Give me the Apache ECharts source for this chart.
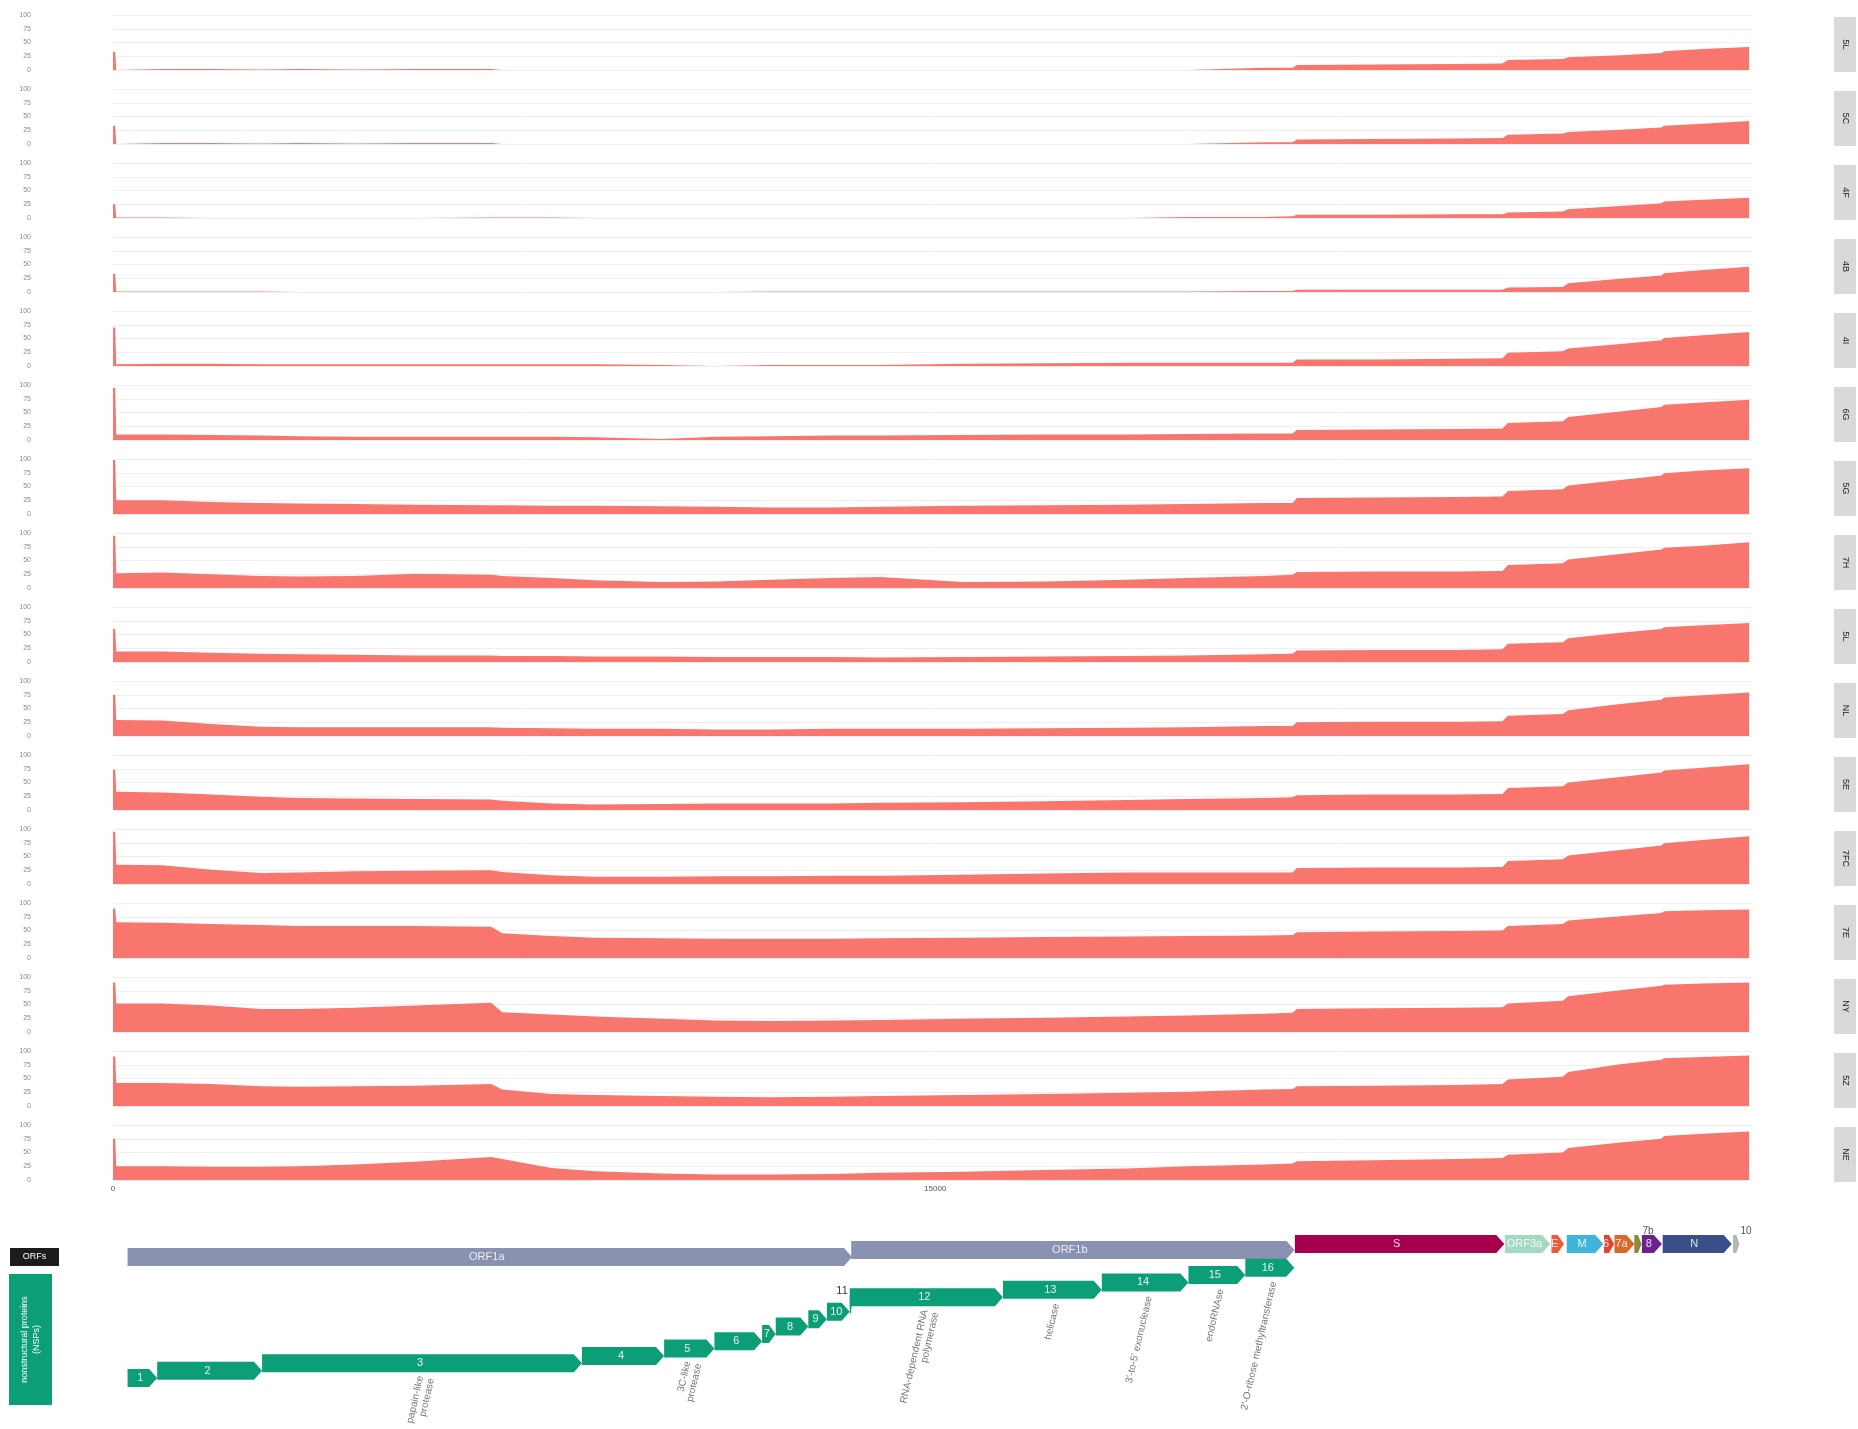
<!DOCTYPE html>
<html><head><meta charset="utf-8">
<script src="https://cdn.jsdelivr.net/npm/echarts@6/dist/echarts.min.js"></script>
<style>html,body{margin:0;padding:0;background:#fff}#c{width:1858px;height:1429px}</style>
</head><body><div id="c"></div>
<script>
// ---------------- data ----------------
const genomeLength = 29903;
const positions = [0, 40, 60, 900, 1800, 2700, 3400, 4400, 5500, 6900, 7100, 8000, 8800, 10000, 11000, 12000, 13100, 14000, 15500, 17000, 18500, 19600, 21000, 21520, 21600, 23000, 24500, 25350, 25450, 26450, 26550, 27500, 28250, 28300, 29000, 29850];
const sampleLabels = ["5L","5C","4F","4B","4I","6G","5G","7H","5L","NL","5E","7FC","7E","NY","5Z","NE"];
const cov01 = [33,33,0,2,2,1,2,1,2,2,0,0,0,0,0,0,0,0,0,0,0,0,4,4,9,10,11,12,18,20,23,27,31,34,38,42];
const cov02 = [33,33,0,2,2,1,2,1,2,2,0,0,0,0,0,0,0,0,0,0,0,0,3,3,8,9,10,11,17,19,22,26,30,33,37,42];
const cov03 = [25,25,1,1,0,0,0,0,0,1,1,1,0,0,0,0,0,0,0,0,0,2,2,3,6,6,7,7,10,12,16,22,27,30,33,37];
const cov04 = [33,33,1,1,1,1,0,0,0,0,0,0,0,0,0,1,1,1,1,1,1,1,2,2,4,4,4,4,8,9,16,24,30,34,40,46];
const cov05 = [70,70,3,4,4,3,3,3,3,3,3,3,3,2,0,2,2,2,4,5,6,6,6,6,12,12,13,14,24,27,32,40,47,51,56,62];
const cov06 = [95,95,10,10,9,8,7,6,6,6,6,6,5,2,6,7,8,8,9,10,10,11,12,12,18,19,20,21,31,34,42,52,60,64,68,73];
const cov07 = [98,98,25,25,22,20,19,18,17,16,16,15,15,14,13,12,12,13,15,16,17,18,20,20,29,30,31,32,42,45,52,62,70,74,79,83];
const cov08 = [95,95,27,28,25,22,21,22,26,24,22,18,14,11,12,15,18,20,11,12,15,18,22,24,29,30,30,31,42,45,52,62,70,73,77,83];
const cov09 = [60,60,19,19,17,15,14,13,12,12,11,11,10,10,9,9,9,8,9,10,11,12,14,15,21,22,22,23,33,36,43,53,60,63,67,71];
const cov10 = [75,75,29,28,22,17,16,16,16,16,15,14,13,13,12,12,13,13,13,14,15,16,18,18,25,26,26,27,37,40,47,58,66,70,74,79];
const cov11 = [73,73,33,32,28,24,22,21,20,19,17,12,10,11,12,12,12,13,14,16,18,20,22,23,27,28,28,29,40,43,50,60,68,72,77,83];
const cov12 = [95,95,35,34,26,20,21,23,24,25,22,16,13,13,14,14,15,15,17,19,21,21,21,21,29,30,30,31,42,45,52,62,70,74,80,87];
const cov13 = [90,90,65,64,62,60,58,58,58,57,45,40,37,36,35,35,35,36,37,38,39,40,41,42,47,48,49,50,58,62,68,76,82,85,87,88];
const cov14 = [90,90,52,52,48,42,42,44,48,53,36,32,28,24,21,20,21,22,24,26,28,30,33,35,42,43,44,45,52,57,65,76,84,86,88,90];
const cov15 = [90,90,42,42,40,36,35,36,37,40,30,22,20,18,17,16,17,18,20,22,24,26,30,31,36,37,38,40,48,53,62,76,84,87,89,92];
const cov16 = [75,75,25,25,24,24,25,28,33,42,38,22,16,12,10,10,11,13,15,18,21,25,28,30,34,36,38,40,46,50,58,68,75,80,84,88];
const coverage = [cov01,cov02,cov03,cov04,cov05,cov06,cov07,cov08,cov09,cov10,cov11,cov12,cov13,cov14,cov15,cov16];
const yTickMax = 100, yTickStep = 25;
const xTickStep = 15000;

const orfLabels = ["ORF1a","ORF1b","S","ORF3a","E","M","6","7a","7b","8","N","10"];
const orfStarts = [266, 13468, 21563, 25393, 26245, 26523, 27202, 27394, 27756, 27894, 28274, 29558];
const orfEnds   = [13483, 21555, 25384, 26220, 26472, 27191, 27387, 27759, 27887, 28259, 29533, 29674];

const nspLabels = ["1","2","3","4","5","6","7","8","9","10","11","12","13","14","15","16"];
const nspStarts = [266, 806, 2720, 8555, 10055, 10973, 11843, 12092, 12686, 13025, 13442, 13442, 16237, 18040, 19621, 20659];
const nspEnds   = [805, 2719, 8554, 10054, 10972, 11842, 12091, 12685, 13024, 13441, 13480, 16236, 18039, 19620, 20658, 21552];
const nspFunctions = ["","","papain-like\nprotease","","3C-like\nprotease","","","","","","","RNA-dependent RNA\npolymerase","helicase","3'-to-5' exonuclease","endoRNAse","2'-O-ribose methyltransferase"];

// ---------------- styles / layout ----------------
const FILL = '#F8766D';
const orfColors = ['#8a92b2','#8a92b2','#a5004e','#a3d9c2','#ef5b3a','#3fb5da','#e2452f','#d8682c','#8b8a3a','#6b2291','#3a4f8a','#b5b5b5'];
const NSP_COLOR = '#0b9e77';
const FONT = 'Liberation Sans, Arial, sans-serif';
const PL = 113, PW = 1639;
const panelTop = i => 15 + 74 * i, PH = 55;

const chart = echarts.init(document.getElementById('c'), null, {renderer:'canvas'});
const grids = [], xAxes = [], yAxes = [], series = [], graphics = [];

coverage.forEach((cov, i) => {
  grids.push({left: PL, width: PW, top: panelTop(i), height: PH});
  xAxes.push({type:'value', gridIndex:i, min:0, max:genomeLength, interval:xTickStep,
    axisLine:{show:false}, axisTick:{show:false},
    axisLabel:{show: i === coverage.length-1, showMaxLabel:false, fontSize:8, color:'#555', margin:5, fontFamily:FONT,
      formatter: v => (v % xTickStep === 0) ? String(v) : ''},
    splitLine:{show:false}});
  yAxes.push({type:'value', gridIndex:i, min:0, max:yTickMax, interval:yTickStep,
    axisLine:{show:false}, axisTick:{show:false},
    axisLabel:{fontSize:7, color:'#888', margin:82, fontFamily:FONT},
    splitLine:{show:true, lineStyle:{color:'#efefef', width:1}}});
  series.push({type:'line', xAxisIndex:i, yAxisIndex:i, showSymbol:false, silent:true,
    data: positions.map((p,k) => [p, cov[k]]),
    lineStyle:{width:0, color:FILL}, itemStyle:{color:FILL},
    areaStyle:{color:FILL, opacity:1}});
  // facet strip
  graphics.push({type:'rect', left:1834, top:panelTop(i)+2, shape:{width:22, height:PH},
    style:{fill:'#d9d9d9'}});
  graphics.push({type:'text', x:1845, y:panelTop(i)+2+PH/2, rotation:-Math.PI/2,
    style:{text:sampleLabels[i], fill:'#1a1a1a', font:'9px '+FONT, align:'center', verticalAlign:'middle'}});
});

// annotation grid
const AI = coverage.length;
grids.push({left: PL, width: PW, top: 1225, height: 190});
xAxes.push({type:'value', gridIndex:AI, min:0, max:genomeLength, show:false});
yAxes.push({type:'value', gridIndex:AI, min:0, max:1, show:false});

function arrowPts(x0, x1, yc, h) {
  const w = Math.max(x1 - x0, 1.5);
  const head = Math.min(8, w * 0.5);
  const xe = x0 + w;
  return [[x0, yc-h/2],[xe-head, yc-h/2],[xe, yc],[xe-head, yc+h/2],[x0, yc+h/2]];
}
function textW(t, fs){ return t.length * fs * 0.55; }

const orfRowY = k => k === 0 ? 1257 : (k === 1 ? 1250 : 1244);
series.push({type:'custom', xAxisIndex:AI, yAxisIndex:AI, silent:true,
  data: orfStarts.map((s,k) => [s, orfEnds[k], k]),
  renderItem: (params, api) => {
    const k = api.value(2);
    const x0 = api.coord([api.value(0), 0])[0];
    const x1 = api.coord([api.value(1), 0])[0];
    const yc = orfRowY(k), h = 18;
    const children = [{type:'polygon', shape:{points: arrowPts(x0, x1, yc, h)}, style:{fill: orfColors[k]}}];
    const lab = orfLabels[k], fs = 11;
    if (textW(lab, fs) + 4 < x1 - x0) {
      children.push({type:'text', x:(x0+x1)/2 - 3, y:yc, style:{text:lab, fill:'rgba(255,255,255,0.85)', font:fs+'px '+FONT, align:'center', verticalAlign:'middle'}});
    } else {
      children.push({type:'text', x:x1 + 1, y:yc - h/2 + 1, style:{text:lab, fill:'#555', font:'10px '+FONT, align:'left', verticalAlign:'bottom'}});
    }
    return {type:'group', children};
  }});

const nspY = i => 1378 - 7.35 * i;
series.push({type:'custom', xAxisIndex:AI, yAxisIndex:AI, silent:true,
  data: nspStarts.map((s,k) => [s, nspEnds[k], k]),
  renderItem: (params, api) => {
    const k = api.value(2);
    const x0 = api.coord([api.value(0), 0])[0];
    const x1 = api.coord([api.value(1), 0])[0];
    const yc = nspY(k), h = 18;
    const children = [{type:'polygon', shape:{points: arrowPts(x0, x1, yc, h)}, style:{fill: NSP_COLOR}}];
    const lab = nspLabels[k], fs = 11;
    if (textW(lab, fs) + 2 < x1 - x0) {
      children.push({type:'text', x:(x0+x1)/2 - 2, y:yc, style:{text:lab, fill:'rgba(255,255,255,0.9)', font:fs+'px '+FONT, align:'center', verticalAlign:'middle'}});
    } else {
      children.push({type:'text', x:x0 - 2, y:yc - h/2 + 1, style:{text:lab, fill:'#5a2a2a', font:'11px '+FONT, align:'right', verticalAlign:'bottom'}});
    }
    const fn = nspFunctions[k];
    if (fn) {
      children.push({type:'text', x:(x0+x1)/2 + 4, y:yc + h/2 + 5, rotation: 77*Math.PI/180,
        style:{text:fn, fill:'#777', font:'10px '+FONT, align:'right', verticalAlign:'middle', lineHeight:11}});
    }
    return {type:'group', children};
  }});

// left annotation keys
graphics.push({type:'rect', left:10, top:1248, shape:{width:49, height:18}, style:{fill:'#1c1c1c'}});
graphics.push({type:'text', x:34.5, y:1257, style:{text:'ORFs', fill:'#fff', font:'9px '+FONT, align:'center', verticalAlign:'middle'}});
graphics.push({type:'rect', left:9, top:1274, shape:{width:43, height:131}, style:{fill:NSP_COLOR}});
graphics.push({type:'text', x:30.5, y:1339.5, rotation:Math.PI/2,
  style:{text:'nonstructural proteins\n(NSPs)', fill:'#fff', font:'9px '+FONT, align:'center', verticalAlign:'middle', lineHeight:12}});

chart.setOption({
  animation:false,
  backgroundColor:'#ffffff',
  textStyle:{fontFamily:FONT},
  grid: grids, xAxis: xAxes, yAxis: yAxes, series,
  graphic: graphics
});
</script></body></html>
